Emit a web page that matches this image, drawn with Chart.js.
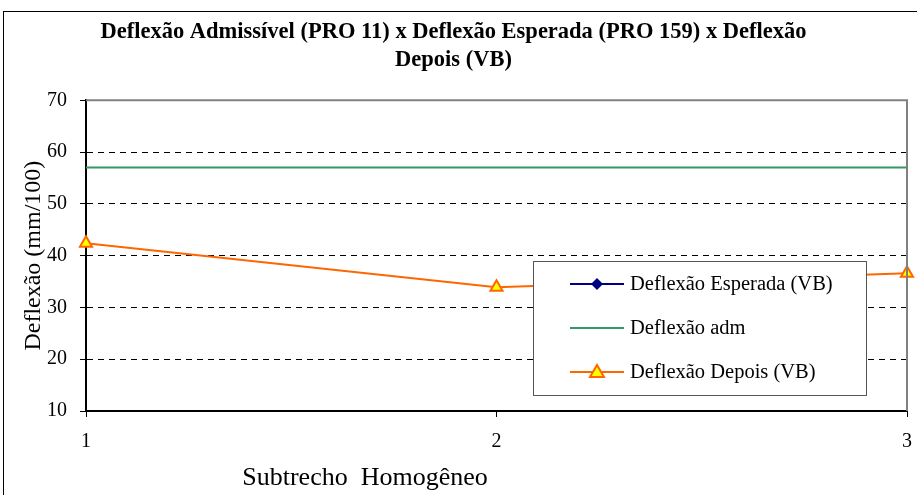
<!DOCTYPE html>
<html>
<head>
<meta charset="utf-8">
<script src="https://cdn.jsdelivr.net/npm/chart.js@4.4.0/dist/chart.umd.min.js"></script>
<style>
  html, body { margin: 0; padding: 0; background: #fff; }
  #wrap { width: 917px; height: 495px; position: relative; }
</style>
</head>
<body>
<div id="wrap"><canvas id="deflexaoChart"></canvas></div>
<script>
var subtrechos = ["1", "2", "3"];
var deflexaoEsperada = [null, null, null];
var deflexaoAdm = [57, 57, 57];
var deflexaoDepois = [42.4, 33.9, 36.6];
var yTicks = [10, 20, 30, 40, 50, 60, 70];

var serif = "'Liberation Serif', 'Times New Roman', serif";

// moldura externa, borda da área de plotagem, título do eixo x e legenda
var boxPlugin = {
  id: "boxPlugin",
  beforeDraw: function (chart) {
    var ctx = chart.ctx;
    ctx.save();
    ctx.strokeStyle = "#000";
    ctx.lineWidth = 1;
    ctx.strokeRect(3.5, 11.5, 1200, 1200);
    ctx.restore();
  },
  afterDatasetsDraw: function (chart) {
    var ctx = chart.ctx;
    var a = chart.chartArea;
    ctx.save();
    ctx.strokeStyle = "#808080";
    ctx.lineWidth = 2;
    ctx.beginPath();
    ctx.moveTo(a.left, a.top);
    ctx.lineTo(a.right, a.top);
    ctx.lineTo(a.right, a.bottom);
    ctx.stroke();
    ctx.restore();
  },
  afterDraw: function (chart) {
    var ctx = chart.ctx;
    ctx.save();
    ctx.fillStyle = "#000";
    ctx.font = "26px " + serif;
    ctx.textAlign = "center";
    ctx.textBaseline = "middle";
    ctx.fillText("Subtrecho  Homogêneo", 365, 478);

    var x = 533, y = 261, w = 333, h = 134;
    ctx.textAlign = "left";
    ctx.fillStyle = "#fff";
    ctx.fillRect(x, y, w, h);
    ctx.strokeStyle = "#555";
    ctx.lineWidth = 1;
    ctx.strokeRect(x + 0.5, y + 0.5, w, h);
    ctx.font = "20.5px " + serif;
    chart.data.datasets.forEach(function (ds, i) {
      var ry = y + 23 + i * 44;
      ctx.strokeStyle = ds.borderColor;
      ctx.lineWidth = 2;
      ctx.beginPath();
      ctx.moveTo(570, ry);
      ctx.lineTo(624, ry);
      ctx.stroke();
      if (ds.pointStyle === "rectRot") {
        ctx.fillStyle = ds.borderColor;
        ctx.beginPath();
        ctx.moveTo(597, ry - 6);
        ctx.lineTo(603, ry);
        ctx.lineTo(597, ry + 6);
        ctx.lineTo(591, ry);
        ctx.closePath();
        ctx.fill();
      } else if (ds.pointStyle === "triangle") {
        ctx.fillStyle = ds.pointBackgroundColor;
        ctx.strokeStyle = ds.borderColor;
        ctx.beginPath();
        ctx.moveTo(597, ry - 7);
        ctx.lineTo(604, ry + 5);
        ctx.lineTo(590, ry + 5);
        ctx.closePath();
        ctx.fill();
        ctx.stroke();
      }
      ctx.fillStyle = "#000";
      ctx.fillText(ds.label, 630, ry + 1);
    });
    ctx.restore();
  }
};

new Chart(document.getElementById("deflexaoChart"), {
  type: "line",
  data: {
    labels: subtrechos,
    datasets: [
      {
        label: "Deflexão Esperada (VB)",
        data: deflexaoEsperada,
        borderColor: "#000080",
        backgroundColor: "#000080",
        pointStyle: "rectRot",
        pointRadius: 6,
        borderWidth: 2
      },
      {
        label: "Deflexão adm",
        data: deflexaoAdm,
        borderColor: "#339966",
        backgroundColor: "#339966",
        pointRadius: 0,
        borderWidth: 2
      },
      {
        label: "Deflexão Depois (VB)",
        data: deflexaoDepois,
        borderColor: "#FF6600",
        pointBackgroundColor: "#FFFF00",
        pointBorderColor: "#FF6600",
        pointStyle: "triangle",
        pointRadius: 7,
        pointBorderWidth: 2,
        borderWidth: 2
      }
    ]
  },
  options: {
    responsive: true,
    maintainAspectRatio: false,
    animation: false,
    layout: { padding: { left: 0, right: 10, top: 0, bottom: 0 } },
    plugins: {
      legend: { display: false },
      tooltip: { enabled: false },
      title: {
        display: true,
        text: ["Deflexão Admissível (PRO 11) x Deflexão Esperada (PRO 159) x Deflexão", "Depois (VB)"],
        color: "#000",
        font: { family: serif, size: 22.5, weight: "bold", lineHeight: 1.25 },
        padding: { top: 18, bottom: 26 }
      }
    },
    scales: {
      x: {
        offset: false,
        grid: { display: true, drawOnChartArea: false, drawTicks: true, tickLength: 6, tickColor: "#000", tickWidth: 1 },
        border: { color: "#000", width: 2 },
        ticks: { color: "#000", font: { family: serif, size: 20 }, padding: 13, maxRotation: 0 },
        afterFit: function (scale) {
          scale.height = 84;
          scale.paddingLeft = 0;
          scale.paddingRight = 0;
        }
      },
      y: {
        min: 10,
        max: 70,
        afterBuildTicks: function (scale) {
          scale.ticks = yTicks.map(function (v) { return { value: v }; });
        },
        grid: {
          color: function (c) { return c.tick.value === 70 || c.tick.value === 10 ? "rgba(0,0,0,0)" : "#000"; },
          drawTicks: true,
          tickLength: 6,
          tickColor: "#000"
        },
        border: { color: "#000", width: 2, dash: [6, 5] },
        ticks: { color: "#000", font: { family: serif, size: 20 }, padding: 13 },
        title: {
          display: true,
          text: "Deflexão (mm/100)",
          color: "#000",
          font: { family: serif, size: 24 },
          padding: { top: 19, bottom: 0 }
        },
        afterFit: function (scale) { scale.width = 86; }
      }
    }
  },
  plugins: [boxPlugin]
});
</script>
</body>
</html>
